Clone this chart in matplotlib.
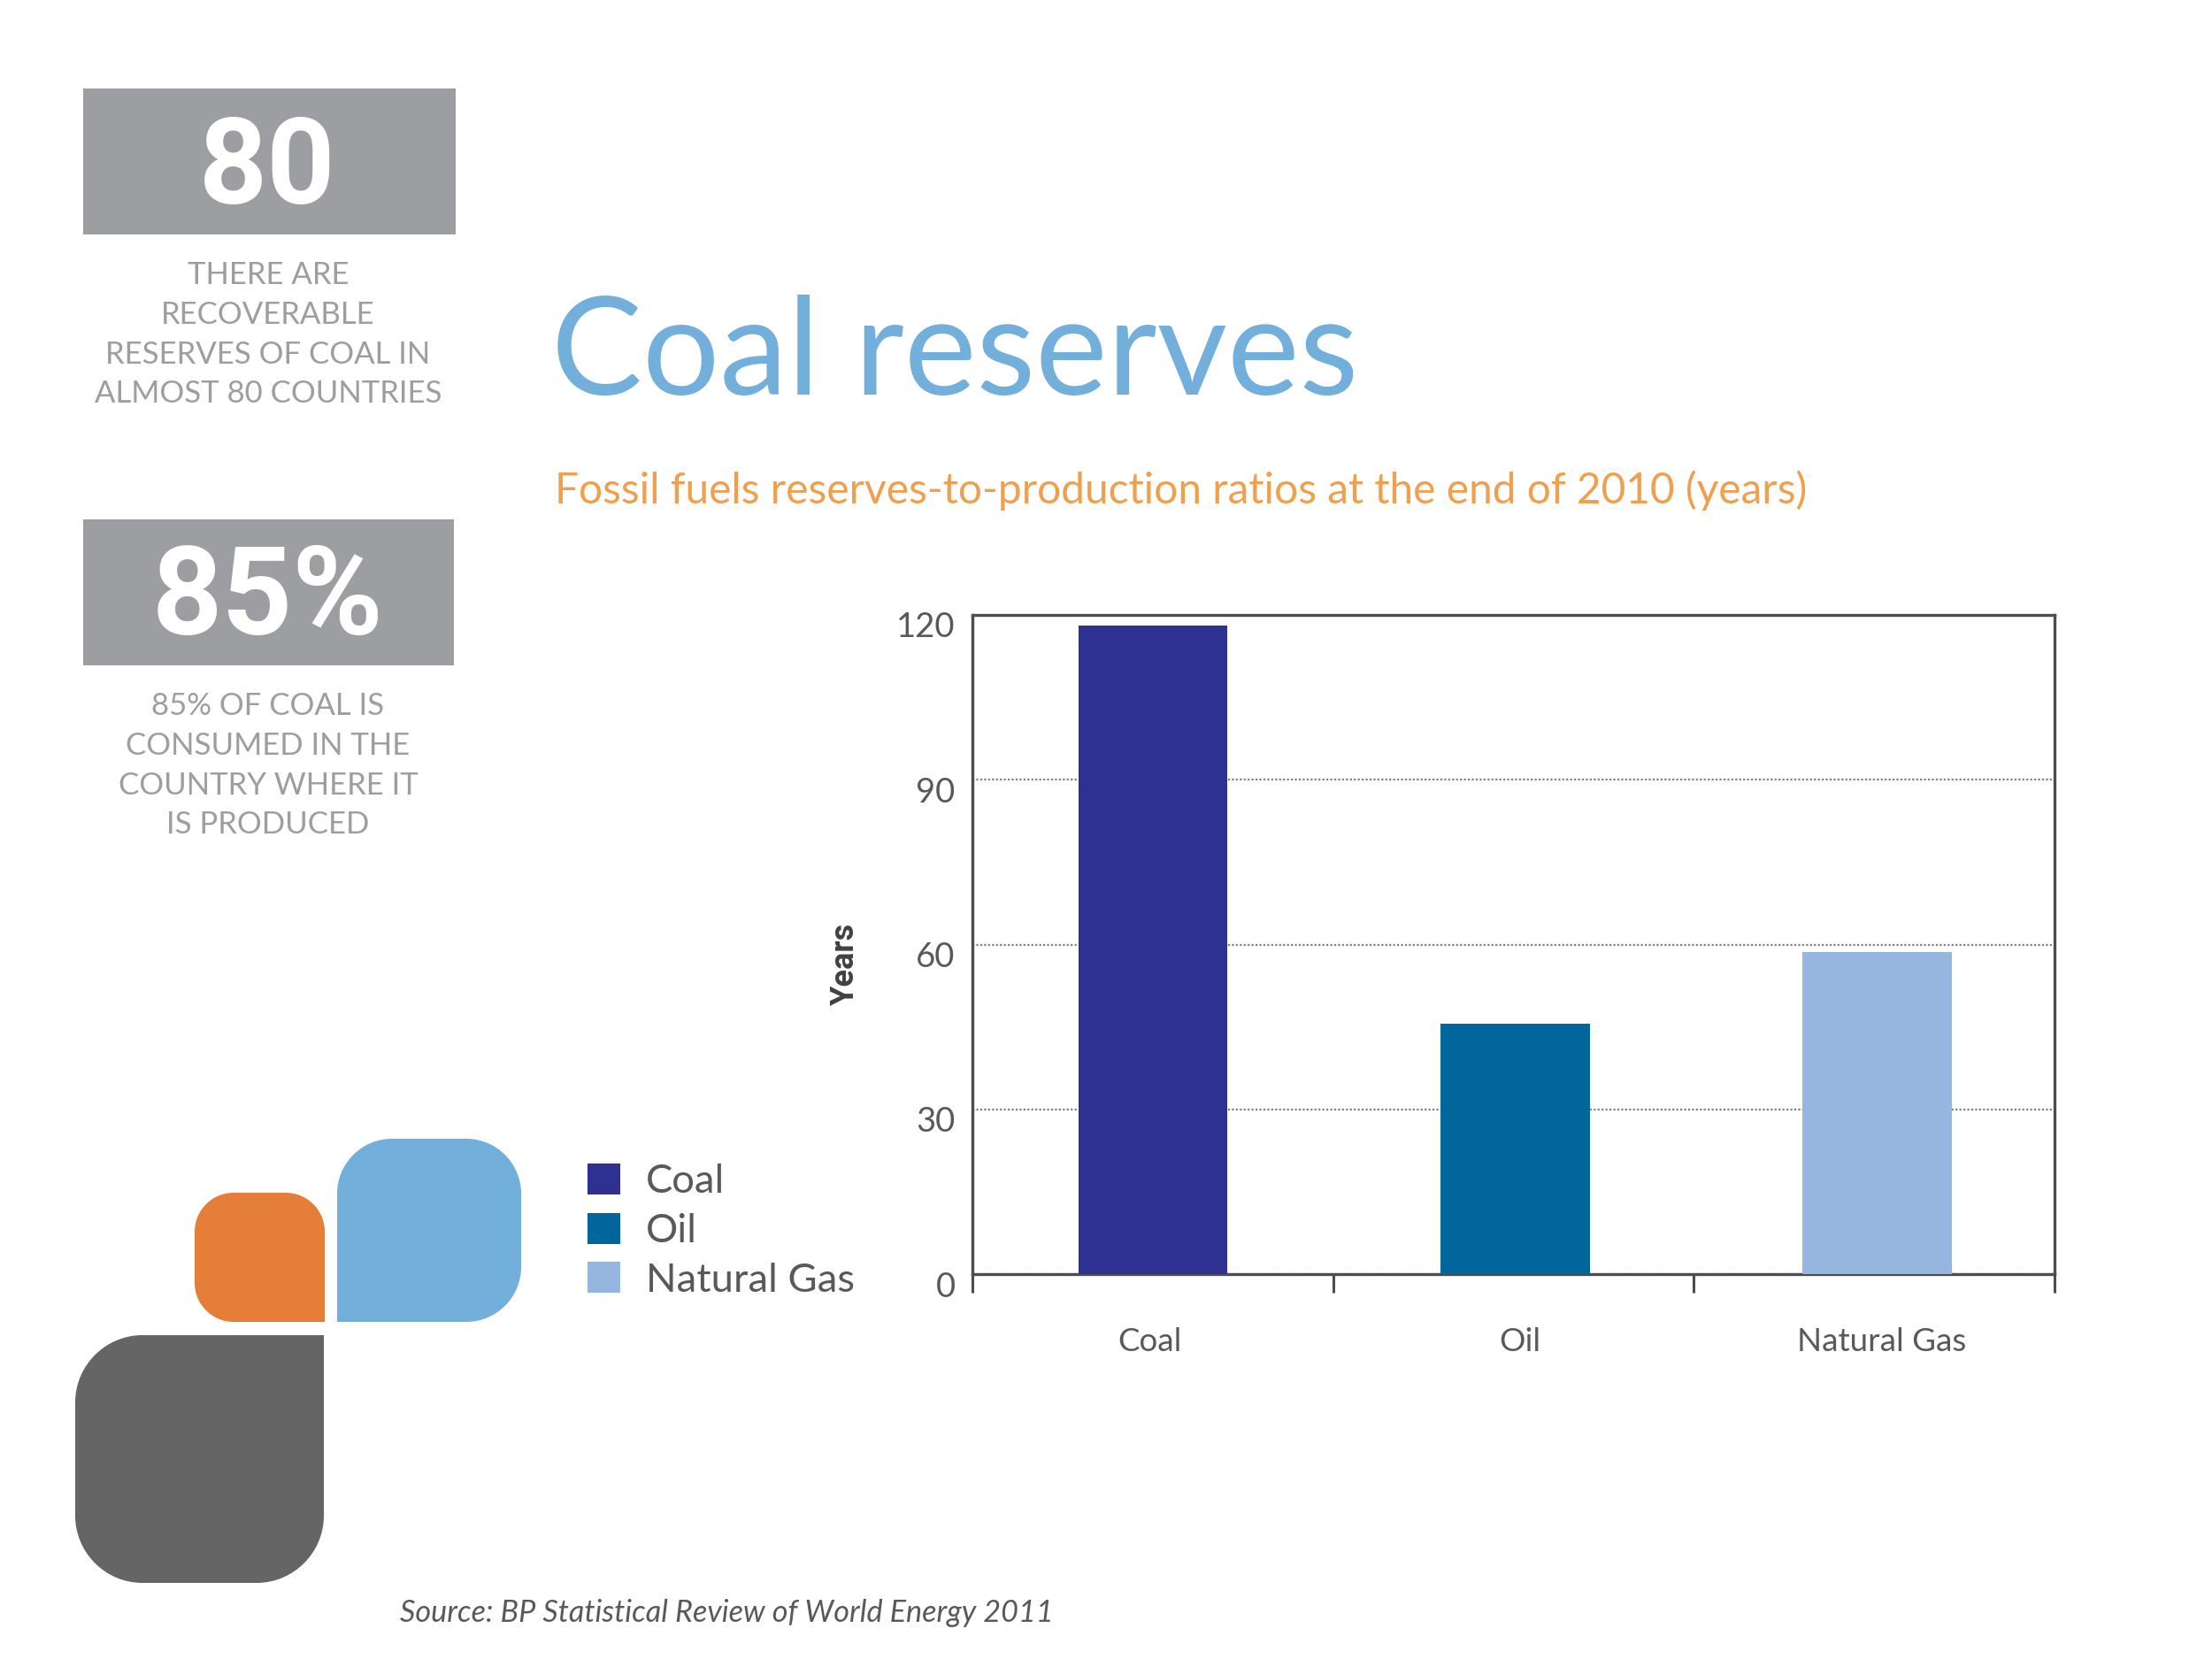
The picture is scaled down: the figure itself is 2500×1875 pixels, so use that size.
import numpy as np
import matplotlib
matplotlib.use("Agg")
import matplotlib.pyplot as plt
from matplotlib.path import Path
from matplotlib.patches import PathPatch, Rectangle
from matplotlib.transforms import ScaledTranslation

W, H = 2500, 1875
DPI = 100

categories = ["Coal", "Oil", "Natural Gas"]
years = [118, 45.6, 58.7]
bar_colors = ["#2E3192", "#00669C", "#95B6DF"]
y_ticks = [0, 30, 60, 90, 120]
title = "Coal reserves"
subtitle = "Fossil fuels reserves-to-production ratios at the end of 2010 (years)"
source = "Source: BP Statistical Review of World Energy 2011"
stat_values = ["80", "85%"]
stat_lines = [
    ["THERE ARE", "RECOVERABLE", "RESERVES OF COAL IN", "ALMOST 80 COUNTRIES"],
    ["85% OF COAL IS", "CONSUMED IN THE", "COUNTRY WHERE IT", "IS PRODUCED"],
]

BODY = ["Lato", "DejaVu Sans"]
TEXT = "#58595B"
plt.rcParams["font.family"] = ["Roboto", "DejaVu Sans"]

fig = plt.figure(figsize=(W / DPI, H / DPI), dpi=DPI, facecolor="white")

# Overlay in pixel coordinates for page furniture
page = fig.add_axes([0, 0, 1, 1])
page.set_xlim(0, W)
page.set_ylim(H, 0)
page.axis("off")


def rounded(x0, y0, x1, y1, r, square):
    """Rounded box; `square` names the corner left sharp."""
    k = 0.45
    def corner(name):
        return r if name != square else 0
    tl, tr, br, bl = corner("tl"), corner("tr"), corner("br"), corner("bl")
    v = [(x0 + tl, y0), (x1 - tr, y0), (x1 - tr * k, y0), (x1, y0 + tr * k), (x1, y0 + tr),
         (x1, y1 - br), (x1, y1 - br * k), (x1 - br * k, y1), (x1 - br, y1),
         (x0 + bl, y1), (x0 + bl * k, y1), (x0, y1 - bl * k), (x0, y1 - bl),
         (x0, y0 + tl), (x0, y0 + tl * k), (x0 + tl * k, y0), (x0 + tl, y0), (x0 + tl, y0)]
    c = [Path.MOVETO, Path.LINETO, Path.CURVE4, Path.CURVE4, Path.CURVE4,
         Path.LINETO, Path.CURVE4, Path.CURVE4, Path.CURVE4,
         Path.LINETO, Path.CURVE4, Path.CURVE4, Path.CURVE4,
         Path.LINETO, Path.CURVE4, Path.CURVE4, Path.CURVE4, Path.CLOSEPOLY]
    return Path(v, c)


page.add_patch(PathPatch(rounded(381, 1287, 589, 1494, 62, "bl"), fc="#72B0DB", ec="none"))
page.add_patch(PathPatch(rounded(220, 1348, 367, 1494, 44, "br"), fc="#E47E38", ec="none"))
page.add_patch(PathPatch(rounded(85, 1509, 366, 1789, 76, "tr"), fc="#656565", ec="none"))

# Stat boxes
for (x0, y0, x1, y1) in [(94, 100, 515, 265), (94, 587, 513, 752)]:
    page.add_patch(Rectangle((x0, y0), x1 - x0, y1 - y0, fc="#9D9EA2", ec="none"))
page.text(302, 179, stat_values[0], color="white", fontsize=97, fontweight="bold", ha="center", va="center_baseline")
page.text(303, 664, stat_values[1], color="white", fontsize=100, fontweight="bold", ha="center", va="center_baseline")

for lines, y0 in zip(stat_lines, [308, 795]):
    for i, s in enumerate(lines):
        page.text(303, y0 + i * 44.8, s, color="#9D9EA2", fontsize=25, family=BODY,
                  ha="center", va="center_baseline")

page.text(623, 446, title, color="#72B0DB", fontsize=111, family=BODY, ha="left", va="baseline")
page.text(627, 550, subtitle, color="#EFA04E", fontsize=34.5, family=BODY, ha="left", va="center_baseline")
page.text(452, 1820, source, color=TEXT, fontsize=24.7, family=BODY, style="italic", ha="left", va="center_baseline")

# Chart
L, R, T, B = 1099, 2322, 695, 1440
ax = fig.add_axes([L / W, 1 - B / H, (R - L) / W, (B - T) / H])
ax.patch.set_alpha(0)
xs = range(len(categories))
bars = ax.bar(xs, years, width=0.412, color=bar_colors, zorder=3)
x_lim = (-0.498, 2.489)
ax.set_xlim(*x_lim)
ax.set_ylim(0, 120)
ax.set_yticks(y_ticks)
ax.set_xticks(np.linspace(*x_lim, 4))
ax.set_xticklabels([])
ax.set_xticks(list(xs), labels=categories, minor=True)
ax.tick_params(axis="x", which="major", length=15, width=2.2, color="#4D4D4D")
ax.tick_params(axis="x", which="minor", length=0, pad=43, labelsize=26.5, labelcolor=TEXT)
ax.tick_params(axis="y", length=0, pad=14, labelsize=27.5, labelcolor=TEXT)
for lab in ax.get_yticklabels():
    lab.set_transform(lab.get_transform() + ScaledTranslation(0, -11 / DPI, fig.dpi_scale_trans))
    lab.set_fontfamily(BODY)
for lab, dx in zip(ax.get_xticklabels(minor=True), [-3, 5, 5]):
    lab.set_transform(lab.get_transform() + ScaledTranslation(dx / DPI, 0, fig.dpi_scale_trans))
    lab.set_fontfamily(BODY)
ax.yaxis.grid(True, linestyle=(0, (1, 1)), color="#808080", linewidth=1.6, zorder=1)
ax.set_axisbelow(True)
for s in ax.spines.values():
    s.set_color("#4D4D4D")
    s.set_linewidth(2.4)
page.text(955, 1089, "Years", rotation=90, color="#414042", fontsize=26, fontweight="bold", ha="center", va="center")

leg = fig.legend(bars.patches, categories, loc="upper left",
                 bbox_to_anchor=(664 / W, 1 - 1315 / H), frameon=False,
                 fontsize=33, handlelength=0.8, handleheight=0.8, handletextpad=0.63,
                 labelspacing=0.31, borderpad=0, borderaxespad=0, labelcolor=TEXT)
for t in leg.get_texts():
    t.set_fontfamily(BODY)
    t.set_fontsize(32.7)

fig.savefig("out.png", dpi=DPI)
